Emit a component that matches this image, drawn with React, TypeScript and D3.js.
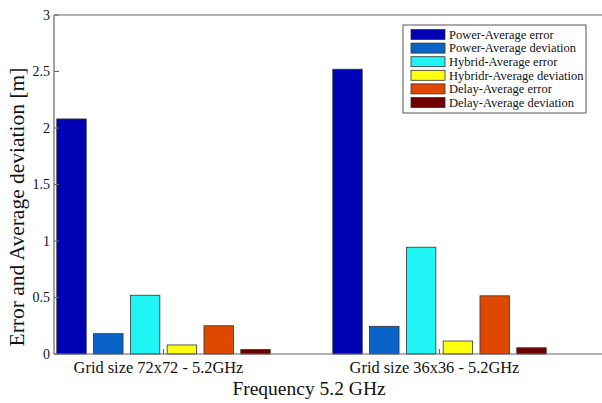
import React from "react";
import * as d3 from "d3";

const categories = ["Grid size 72x72 - 5.2GHz", "Grid size 36x36 - 5.2GHz"];
const seriesNames = [
  "Power-Average error",
  "Power-Average deviation",
  "Hybrid-Average error",
  "Hybridr-Average deviation",
  "Delay-Average error",
  "Delay-Average deviation",
];
const seriesColors = ["#0000b4", "#0a64c8", "#20f4f4", "#ffff10", "#e04800", "#700000"];
const values = [
  [2.08, 2.52],
  [0.18, 0.245],
  [0.52, 0.945],
  [0.08, 0.115],
  [0.25, 0.515],
  [0.04, 0.055],
];
const yTicks = [0, 0.5, 1, 1.5, 2, 2.5, 3];
const xTitle = "Frequency 5.2 GHz";
const yTitle = "Error and Average deviation [m]";

export default function App() {
  const W = 602, H = 403;
  const left = 54, top = 15, bottom = 354, right = 610;
  const x = d3.scaleLinear().domain([1, 2]).range([163.5, 439.5]);
  const y = d3.scaleLinear().domain([0, 3]).range([bottom, top]);
  const nS = seriesNames.length;
  const step = 0.8 / nS;
  const bw = step * 0.8;
  const font = "'Liberation Serif', 'Times New Roman', serif";
  const legX = 403, legY = 25, legW = 183, legH = 88, rowH = 13.6;
  return (
    <svg width={W} height={H} style={{ position: "absolute", left: 0, top: 0, background: "#fff" }} fontFamily={font}>
      <rect x={0} y={0} width={W} height={H} fill="#fff" />
      {values.map((vals, s) =>
        vals.map((v, c) => {
          const cx = c + 1 - 0.4 + step * (s + 0.5);
          const x0 = x(cx - bw / 2);
          const x1 = x(cx + bw / 2);
          return (
            <rect key={s + "-" + c} x={x0} y={y(v)} width={x1 - x0} height={y(0) - y(v)}
              fill={seriesColors[s]} stroke="#333" strokeWidth={0.8} />
          );
        })
      )}
      {/* frame */}
      <line x1={left} y1={top} x2={right} y2={top} stroke="#666" strokeWidth={1.2} />
      <line x1={left} y1={top} x2={left} y2={bottom} stroke="#666" strokeWidth={1.2} />
      <line x1={left} y1={bottom} x2={right} y2={bottom} stroke="#666" strokeWidth={1.2} />
      {yTicks.map((t) => (
        <g key={t}>
          <line x1={left} x2={left + 5} y1={y(t)} y2={y(t)} stroke="#666" />
          <text x={left - 4} y={y(t)} dy="0.35em" textAnchor="end" fontSize={14} fill="#111">{t}</text>
        </g>
      ))}
      {categories.map((c, i) => (
        <g key={c}>
          <line x1={x(i + 1)} x2={x(i + 1)} y1={bottom} y2={bottom - 5} stroke="#666" />
          <text x={x(i + 1) - 5} y={373} textAnchor="middle" fontSize={16.4} fill="#111">{c}</text>
        </g>
      ))}
      <text x={309} y={395} textAnchor="middle" fontSize={19.5} fill="#111">{xTitle}</text>
      <text transform={`translate(24, 207) rotate(-90)`} textAnchor="middle" fontSize={21.5} fill="#111">{yTitle}</text>
      {/* legend */}
      <rect x={legX} y={legY} width={legW} height={legH} fill="#fff" stroke="#555" strokeWidth={1} />
      {seriesNames.map((n, i) => {
        const cy = legY + 9.5 + i * rowH;
        return (
          <g key={n}>
            <rect x={legX + 8} y={cy - 5} width={34} height={10} fill={seriesColors[i]} stroke="#333" strokeWidth={0.8} />
            <text x={legX + 46} y={cy} dy="0.35em" fontSize={12.5} fill="#111">{n}</text>
          </g>
        );
      })}
    </svg>
  );
}
